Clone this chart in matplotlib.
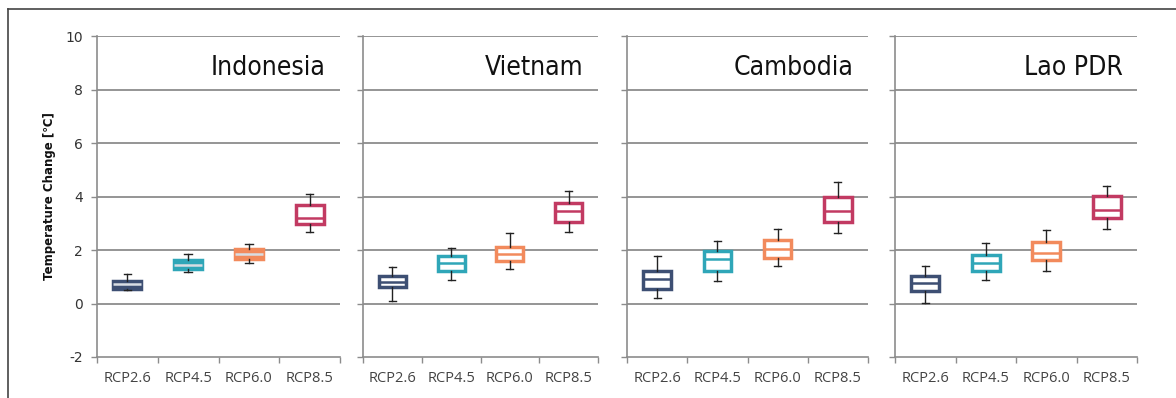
import matplotlib.pyplot as plt
from matplotlib.lines import Line2D

plt.rcParams['axes.unicode_minus'] = False

# scenarios and countries
scenarios = ['RCP2.6', 'RCP4.5', 'RCP6.0', 'RCP8.5']
countries = ['Indonesia', 'Vietnam', 'Cambodia', 'Lao PDR']
colors = ['#3d4f73', '#2fa6b8', '#f28a5c', '#c23a62']

# box statistics per country, one value per scenario
whislo = {
    'Indonesia': [0.50, 1.16, 1.50, 2.66],
    'Vietnam':   [0.08, 0.88, 1.29, 2.69],
    'Cambodia':  [0.22, 0.84, 1.42, 2.62],
    'Lao PDR':   [0.03, 0.88, 1.20, 2.79],
}
q1 = {
    'Indonesia': [0.55, 1.29, 1.68, 2.98],
    'Vietnam':   [0.60, 1.22, 1.60, 3.06],
    'Cambodia':  [0.55, 1.22, 1.71, 3.06],
    'Lao PDR':   [0.48, 1.22, 1.62, 3.20],
}
med = {
    'Indonesia': [0.72, 1.45, 1.85, 3.20],
    'Vietnam':   [0.79, 1.50, 1.85, 3.44],
    'Cambodia':  [0.90, 1.65, 2.02, 3.47],
    'Lao PDR':   [0.75, 1.50, 1.89, 3.48],
}
q3 = {
    'Indonesia': [0.85, 1.62, 2.05, 3.69],
    'Vietnam':   [1.01, 1.79, 2.12, 3.76],
    'Cambodia':  [1.22, 1.97, 2.37, 3.97],
    'Lao PDR':   [1.01, 1.81, 2.29, 4.01],
}
whishi = {
    'Indonesia': [1.10, 1.85, 2.22, 4.08],
    'Vietnam':   [1.35, 2.08, 2.62, 4.20],
    'Cambodia':  [1.79, 2.34, 2.77, 4.54],
    'Lao PDR':   [1.41, 2.26, 2.76, 4.39],
}
# the narrow Indonesian boxes are drawn solid
filled = {
    'Indonesia': [True, True, True, False],
    'Vietnam':   [False] * 4,
    'Cambodia':  [False] * 4,
    'Lao PDR':   [False] * 4,
}
y_ticks = [-2, 0, 2, 4, 6, 8, 10]

W, H = 1176, 398
fig = plt.figure(figsize=(W / 100, H / 100), dpi=100)
fig.patch.set_facecolor('white')

# panel positions in pixels: (left, width)
panels = [(97, 243), (363, 235), (627, 241), (895, 242)]
bottom = 1 - 357 / H
height = (357 - 36) / H

for i, (country, (px, pw)) in enumerate(zip(countries, panels)):
    ax = fig.add_axes([px / W, bottom, pw / W, height])
    ax.set_xlim(0, 4)
    ax.set_ylim(-2, 10)

    # horizontal grid lines
    for y in y_ticks[1:]:
        ax.axhline(y, color='#8c8c8c', lw=1.3, zorder=0)

    for j, sc in enumerate(scenarios):
        stats = [{
            'whislo': whislo[country][j], 'q1': q1[country][j],
            'med': med[country][j], 'q3': q3[country][j],
            'whishi': whishi[country][j], 'fliers': [],
        }]
        c = colors[j]
        solid = filled[country][j]
        ax.bxp(stats, positions=[j + 0.5], widths=0.46, patch_artist=True,
               showfliers=False, manage_ticks=False,
               boxprops=dict(facecolor=c if solid else 'white', edgecolor=c,
                             linewidth=2.5),
               medianprops=dict(color='#d8dde3' if solid else c, linewidth=1.8),
               whiskerprops=dict(color='#222222', linewidth=1.0),
               capprops=dict(color='#222222', linewidth=1.0),
               capwidths=0.12, zorder=3)

    for side in ['top', 'right']:
        ax.spines[side].set_visible(False)
    ax.spines['left'].set_color('#8c8c8c')
    ax.spines['bottom'].set_color('#8c8c8c')
    ax.spines['left'].set_linewidth(1.2)
    ax.spines['bottom'].set_linewidth(1.2)

    ax.set_yticks(y_ticks)
    ax.tick_params(axis='y', length=4, color='#8c8c8c', width=1.0,
                   labelsize=10, labelcolor='#333333', pad=6)
    if i > 0:
        ax.tick_params(axis='y', labelleft=False)
    else:
        ax.set_ylabel('Temperature Change [℃]', fontsize=8.5, fontweight='bold',
                      color='#111111', labelpad=7)

    # category separators as ticks, labels centred between them
    ax.set_xticks([0, 1, 2, 3, 4])
    ax.set_xticklabels([])
    ax.set_xticks([0.5, 1.5, 2.5, 3.5], minor=True)
    ax.set_xticklabels(scenarios, minor=True, fontsize=10.5, color='#444444',
                       family='Open Sans')
    ax.tick_params(axis='x', which='major', length=4, color='#8c8c8c', width=1.0)
    ax.tick_params(axis='x', which='minor', length=0, pad=10)

    ax.text(0.94, 0.9, country, transform=ax.transAxes, ha='right', va='center',
            fontsize=19, family='DejaVu Sans', fontstretch='condensed',
            color='#111111')

# outer frame along the left and top edges
fig.add_artist(Line2D([8 / W, 8 / W], [0, 1 - 9 / H], transform=fig.transFigure,
                      color='#444444', lw=1.2))
fig.add_artist(Line2D([8 / W, 1], [1 - 9 / H, 1 - 9 / H], transform=fig.transFigure,
                      color='#444444', lw=1.2))

fig.savefig('out.png', dpi=100, facecolor='white')
